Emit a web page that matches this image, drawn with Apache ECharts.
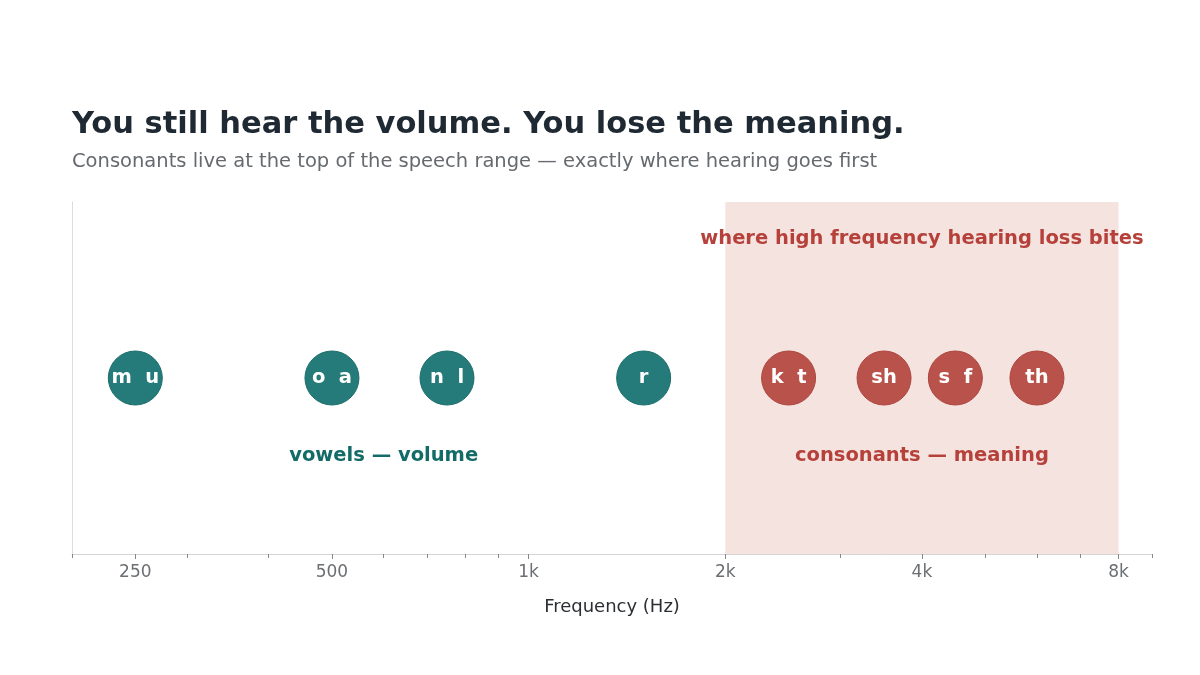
<!DOCTYPE html>
<html>
<head>
<meta charset="utf-8">
<script src="https://cdn.jsdelivr.net/npm/echarts@6/dist/echarts.min.js"></script>
<style>
html,body{margin:0;padding:0;background:#fff;}
#chart{width:1200px;height:675px;}
</style>
</head>
<body>
<div id="chart"></div>
<script>
// Data
const vowelFreqs = [250, 500, 750, 1500];
const vowelLabels = ['m  u', 'o  a', 'n  l', 'r'];
const consonantFreqs = [2500, 3500, 4500, 6000];
const consonantLabels = ['k  t', 'sh', 's  f', 'th'];
const rowY = 0.5;
const lossBand = [2000, 8000];
const majorTicks = [250, 500, 1000, 2000, 4000, 8000];
const minorTicks = [200, 300, 400, 600, 700, 800, 900, 3000, 5000, 6000, 7000, 9000];
const annotations = [
  { text: 'where high frequency hearing loss bites', x: 4000, y: 0.895, color: '#b5413a' },
  { text: 'consonants — meaning', x: 4000, y: 0.278, color: '#b5413a' },
  { text: 'vowels — volume', x: 600, y: 0.278, color: '#136b68' }
];

const FONT = '"DejaVu Sans", sans-serif';
const chart = echarts.init(document.getElementById('chart'));

function fmt(v) { return v >= 1000 ? (v / 1000) + 'k' : String(v); }

const option = {
  backgroundColor: '#ffffff',
  animation: false,
  title: {
    text: 'You still hear the volume. You lose the meaning.',
    subtext: 'Consonants live at the top of the speech range — exactly where hearing goes first',
    left: 67, top: 105,
    itemGap: 11,
    textStyle: { fontFamily: FONT, fontSize: 30.5, fontWeight: 'bold', color: '#1f2933' },
    subtextStyle: { fontFamily: FONT, fontSize: 19.5, color: '#666a6e' }
  },
  grid: { left: 72, right: 48, top: 202, bottom: 121 },
  xAxis: [{
    type: 'log', logBase: 2, min: 200, max: 9000,
    name: 'Frequency (Hz)', nameLocation: 'middle', nameGap: 44,
    nameTextStyle: { fontFamily: FONT, fontSize: 18, color: '#2b2f33' },
    axisLine: { show: true, lineStyle: { color: '#d4d4d4', width: 1 } },
    axisTick: { show: true, customValues: majorTicks, length: 5, lineStyle: { color: '#888' } },
    axisLabel: { customValues: majorTicks, formatter: fmt, fontFamily: FONT, fontSize: 17, color: '#6b6f73', margin: 10 },
    splitLine: { show: false }, minorTick: { show: false }
  }, {
    type: 'log', logBase: 2, min: 200, max: 9000, position: 'bottom',
    axisLine: { show: false },
    axisTick: { show: true, customValues: minorTicks, length: 4, lineStyle: { color: '#888' } },
    axisLabel: { show: false }, splitLine: { show: false }
  }],
  yAxis: {
    type: 'value', min: 0, max: 1,
    axisLine: { show: true, lineStyle: { color: '#dcdcdc' } },
    axisTick: { show: false }, axisLabel: { show: false }, splitLine: { show: false }
  },
  series: [
    {
      type: 'scatter', name: 'band', data: [], z: 1,
      markArea: {
        silent: true,
        itemStyle: { color: '#f5e3e0', opacity: 1 },
        data: [[{ xAxis: lossBand[0] }, { xAxis: lossBand[1] }]]
      }
    },
    {
      type: 'scatter', name: 'vowels', z: 3,
      symbolSize: 54,
      itemStyle: { color: '#247b79', borderColor: '#1c6e6b', borderWidth: 1, opacity: 1 },
      label: { show: true, position: 'inside', formatter: p => vowelLabels[p.dataIndex], fontFamily: FONT, fontSize: 19.5, fontWeight: 'bold', color: '#ffffff', opacity: 1 },
      data: vowelFreqs.map(f => [f, rowY])
    },
    {
      type: 'scatter', name: 'consonants', z: 3,
      symbolSize: 54,
      itemStyle: { color: '#b9524a', borderColor: '#ad463f', borderWidth: 1, opacity: 1 },
      label: { show: true, position: 'inside', formatter: p => consonantLabels[p.dataIndex], fontFamily: FONT, fontSize: 19.5, fontWeight: 'bold', color: '#ffffff', opacity: 1 },
      data: consonantFreqs.map(f => [f, rowY])
    },
    {
      type: 'scatter', name: 'notes', z: 4, symbolSize: 0, silent: true,
      itemStyle: { opacity: 1 },
      data: annotations.map(a => ({
        value: [a.x, a.y],
        label: { show: true, position: 'inside', formatter: a.text, fontFamily: FONT, fontSize: 19.5, fontWeight: 'bold', color: a.color, opacity: 1 }
      }))
    }
  ]
};
chart.setOption(option);
</script>
</body>
</html>
